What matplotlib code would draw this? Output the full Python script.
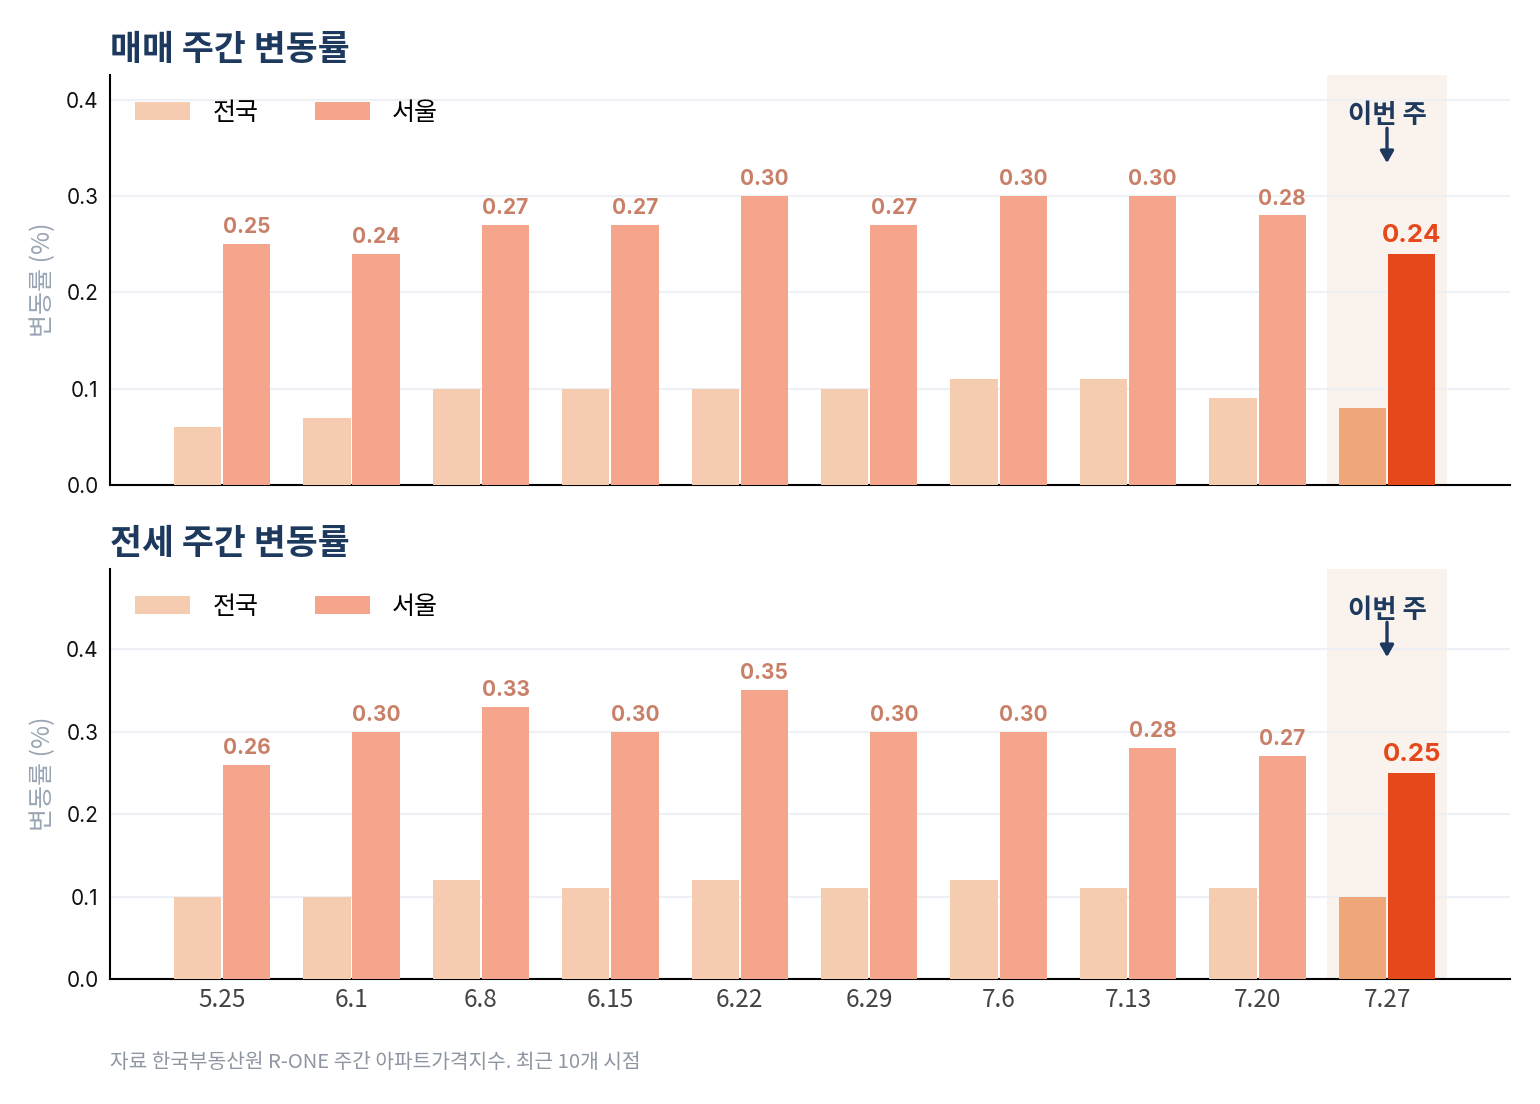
import matplotlib
matplotlib.use("Agg")
import matplotlib.pyplot as plt
import matplotlib.transforms as mtransforms
from matplotlib.patches import Patch
import numpy as np

plt.rcParams['font.family'] = ['Inter', 'Noto Sans CJK KR', 'DejaVu Sans']
KR = ['Noto Sans CJK KR', 'Inter', 'DejaVu Sans']

weeks = ["5.25", "6.1", "6.8", "6.15", "6.22", "6.29", "7.6", "7.13", "7.20", "7.27"]
sale_nation = [0.06, 0.07, 0.10, 0.10, 0.10, 0.10, 0.11, 0.11, 0.09, 0.08]
sale_seoul = [0.25, 0.24, 0.27, 0.27, 0.30, 0.27, 0.30, 0.30, 0.28, 0.24]
jeonse_nation = [0.10, 0.10, 0.12, 0.11, 0.12, 0.11, 0.12, 0.11, 0.11, 0.10]
jeonse_seoul = [0.26, 0.30, 0.33, 0.30, 0.35, 0.30, 0.30, 0.28, 0.27, 0.25]
titles = ["매매 주간 변동률", "전세 주간 변동률"]
series_names = ["전국", "서울"]
footer = "자료 한국부동산원 R-ONE 주간 아파트가격지수. 최근 10개 시점"

C_NAT = "#F5CCAF"
C_SEO = "#F4A58B"
C_NAT_HI = "#EFA779"
C_SEO_HI = "#E5481A"
C_LABEL = "#C98068"
NAVY = "#1D3A5E"
SPAN = "#FAF2EC"
GRID = "#EDF0F4"

fig = plt.figure(figsize=(15.4, 11.04), dpi=100)
axes_pos = [[0.0714, 0.5607, 0.9091, 0.3714], [0.0714, 0.1132, 0.9091, 0.3714]]
datasets = [(sale_nation, sale_seoul), (jeonse_nation, jeonse_seoul)]

x = np.arange(len(weeks))
w = 0.365
off = 0.19
for i, (nat, seo) in enumerate(datasets):
    ax = fig.add_axes(axes_pos[i])
    n = len(weeks)
    hi = n - 1
    ax.axvspan(hi - 0.46, hi + 0.46, color=SPAN, zorder=0, lw=0)
    nat_colors = [C_NAT] * n
    seo_colors = [C_SEO] * n
    nat_colors[hi] = C_NAT_HI
    seo_colors[hi] = C_SEO_HI
    ax.bar(x - off, nat, width=w, color=nat_colors, zorder=3, lw=0)
    bars = ax.bar(x + off, seo, width=w, color=seo_colors, zorder=3, lw=0)
    for j, (b, v) in enumerate(zip(bars, seo)):
        if j == hi:
            ax.annotate(f"{v:.2f}", (b.get_x() + b.get_width() / 2, v), xytext=(0, 5),
                        textcoords="offset points", ha="center", va="bottom",
                        fontsize=18.5, fontweight="bold", color=C_SEO_HI, zorder=5)
        else:
            ax.annotate(f"{v:.2f}", (b.get_x() + b.get_width() / 2, v), xytext=(0, 5),
                        textcoords="offset points", ha="center", va="bottom",
                        fontsize=15, fontweight="bold", color=C_LABEL, zorder=5)
    ymax = max(seo) * 1.42
    ax.set_ylim(0, ymax)
    ax.set_xlim(-0.866, 9.95)
    ax.set_yticks([0, 0.1, 0.2, 0.3, 0.4])
    ax.set_yticklabels([f"{t:.1f}" for t in [0, 0.1, 0.2, 0.3, 0.4]])
    ax.yaxis.grid(True, color=GRID, lw=1.5, zorder=1)
    ax.set_axisbelow(True)
    for s in ["top", "right"]:
        ax.spines[s].set_visible(False)
    ax.spines["left"].set_linewidth(1.5)
    ax.spines["bottom"].set_linewidth(1.5)
    ax.tick_params(axis="both", length=0, labelsize=15)
    ax.tick_params(axis="y", pad=8, labelcolor="#111111")
    ax.set_xticks(x)
    if i == 1:
        ax.set_xticklabels(weeks, color="#444444", fontsize=17.5, family=KR)
        ax.tick_params(axis="x", pad=6)
    else:
        ax.set_xticklabels([])
    ax.set_ylabel("변동률 (%)", fontsize=18, color="#9AA5B4", labelpad=7, family=KR)
    ax.set_title(titles[i], loc="left", fontsize=25, fontweight="heavy", color=NAVY, pad=11,
                 family=KR)
    handles = [Patch(color=C_NAT, lw=0), Patch(color=C_SEO, lw=0)]
    ax.legend(handles, series_names, loc="center left", ncol=2, frameon=False,
              prop={'family': KR, 'size': 18},
              handlelength=2.2, handleheight=0.76, columnspacing=2.25, handletextpad=0.9,
              bbox_to_anchor=(25 / 1400, 0.908), borderaxespad=0, borderpad=0)
    trans = mtransforms.blended_transform_factory(ax.transData, ax.transAxes)
    ax.text(hi, 0.90, "이번 주", transform=trans, ha="center", va="center", fontsize=19,
            fontweight="bold", color=NAVY, zorder=6, family=KR)
    ax.annotate("", xy=(hi, 0.785), xycoords=trans, xytext=(hi, 0.87), textcoords=trans,
                arrowprops=dict(arrowstyle="-|>,head_length=0.7,head_width=0.4", color=NAVY,
                                lw=2.4, shrinkA=0, shrinkB=0),
                zorder=6)

fig.text(0.0714, 1 - 1062 / 1104, footer, fontsize=14.6, color="#8E96A3", va="center",
         ha="left", family=KR)
fig.savefig("out.png", dpi=100)
